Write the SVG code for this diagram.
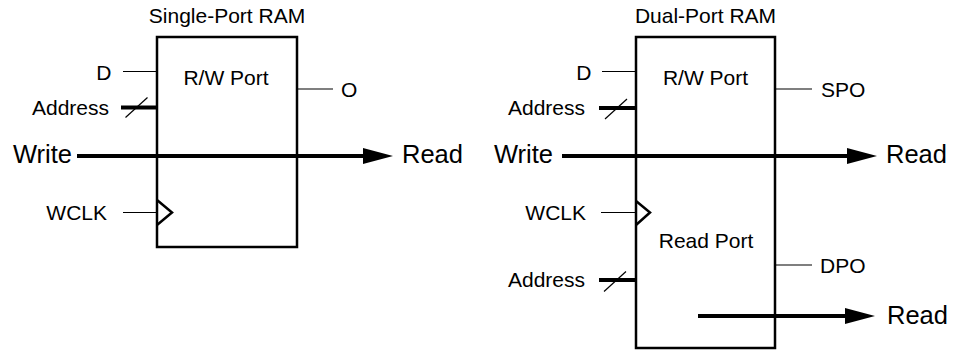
<svg xmlns="http://www.w3.org/2000/svg" width="960" height="354" viewBox="0 0 960 354">
  <style>
    .box { fill: #ffffff; stroke: #000000; stroke-width: 2.5; }
    .clk { fill: none; stroke: #000000; stroke-width: 2.5; stroke-linejoin: miter; }
    .thin { stroke: #000000; stroke-width: 1.2; fill: none; }
    .bus { stroke: #000000; stroke-width: 4; fill: none; }
    .flow { stroke: #000000; stroke-width: 4; fill: none; marker-end: url(#arrow); }
    text { font-family: "Liberation Sans", Arial, sans-serif; fill: #000000; }
    .t { font-size: 21px; }
    .big { font-size: 25.5px; }
    .end { text-anchor: end; }
    .mid { text-anchor: middle; }
  </style>
  <defs>
    <marker id="arrow" markerUnits="userSpaceOnUse" markerWidth="30" markerHeight="16" refX="0" refY="8" orient="auto" viewBox="0 0 30 16">
      <path d="M0,0 L30,8 L0,16 Z" fill="#000000"/>
    </marker>
  </defs>

  <g id="single-port-ram">
    <rect class="box" x="157" y="37" width="140" height="210"/>
    <text class="t mid" x="227" y="23">Single-Port RAM</text>
    <text class="t mid" x="226" y="85">R/W Port</text>
    <polyline class="clk" points="157,200 172,212.5 157,225"/>
    <text class="t end" x="111.5" y="80">D</text>
    <text class="t end" x="109" y="114.5">Address</text>
    <text class="t end" x="107" y="220">WCLK</text>
    <text class="t" x="341" y="97">O</text>
    <text class="big" x="13" y="163">Write</text>
    <text class="big" x="402" y="163">Read</text>
  </g>

  <g id="dual-port-ram">
    <rect class="box" x="636" y="37" width="139" height="311"/>
    <text class="t mid" x="705.5" y="23">Dual-Port RAM</text>
    <text class="t mid" x="705.5" y="85">R/W Port</text>
    <text class="t mid" x="706" y="248">Read Port</text>
    <polyline class="clk" points="636,201 650,212.5 636,225"/>
    <text class="t end" x="591.5" y="80">D</text>
    <text class="t end" x="585" y="115">Address</text>
    <text class="t end" x="586" y="220">WCLK</text>
    <text class="t end" x="585" y="287">Address</text>
    <text class="t" x="821" y="97">SPO</text>
    <text class="t" x="820" y="273">DPO</text>
    <text class="big" x="494" y="163">Write</text>
    <text class="big" x="886" y="163">Read</text>
    <text class="big" x="887" y="324">Read</text>
  </g>

  <g id="connectors">
    <!-- single-port -->
    <line class="thin" x1="123" y1="71.5" x2="157" y2="71.5"/>
    <line class="bus" x1="121" y1="107.5" x2="157" y2="107.5"/>
    <line class="thin" x1="125.5" y1="117.5" x2="147.5" y2="97.5"/>
    <line class="thin" x1="123" y1="212.5" x2="157" y2="212.5"/>
    <line class="thin" x1="297" y1="89" x2="333" y2="89"/>
    <line class="flow" x1="77" y1="156" x2="363" y2="156"/>
    <!-- dual-port -->
    <line class="thin" x1="602" y1="71.5" x2="636" y2="71.5"/>
    <line class="bus" x1="599" y1="108" x2="636" y2="108"/>
    <line class="thin" x1="605" y1="119" x2="627" y2="99"/>
    <line class="thin" x1="601" y1="212.5" x2="636" y2="212.5"/>
    <line class="bus" x1="599" y1="280" x2="636" y2="280"/>
    <line class="thin" x1="604" y1="291.5" x2="626" y2="271.5"/>
    <line class="thin" x1="775" y1="89" x2="812" y2="89"/>
    <line class="thin" x1="775" y1="265" x2="812" y2="265"/>
    <line class="flow" x1="562" y1="156" x2="847" y2="156"/>
    <line class="flow" x1="698" y1="316" x2="845" y2="316"/>
  </g>
</svg>
